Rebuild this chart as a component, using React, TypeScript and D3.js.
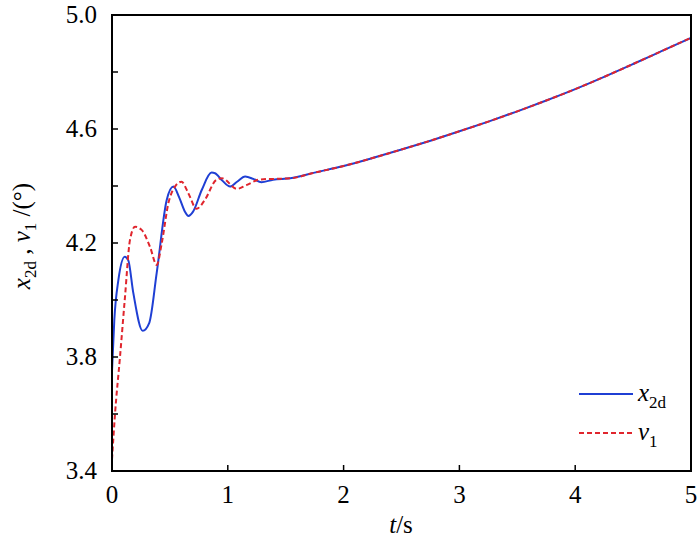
import React from "react";
import * as d3 from "d3";

const x2dTime = [0, 0.02, 0.055, 0.11, 0.14, 0.184, 0.265, 0.322, 0.386, 0.472, 0.53, 0.58, 0.63, 0.66, 0.7, 0.775, 0.86, 0.89, 0.95, 1.02, 1.08, 1.15, 1.22, 1.29, 1.39, 1.54];
const x2dValue = [3.75, 3.93, 4.07, 4.152, 4.14, 4.025, 3.892, 3.92, 4.095, 4.35, 4.398, 4.36, 4.31, 4.295, 4.31, 4.386, 4.447, 4.445, 4.42, 4.398, 4.415, 4.433, 4.425, 4.413, 4.422, 4.427];
const v1Time = [0, 0.026, 0.069, 0.112, 0.155, 0.199, 0.256, 0.328, 0.386, 0.43, 0.487, 0.544, 0.6, 0.66, 0.73, 0.8, 0.9, 0.95, 1.08, 1.16, 1.28, 1.4, 1.54];
const v1Value = [3.44, 3.6, 3.8, 4.01, 4.21, 4.257, 4.246, 4.187, 4.123, 4.2, 4.34, 4.398, 4.415, 4.374, 4.32, 4.35, 4.421, 4.427, 4.39, 4.403, 4.423, 4.425, 4.427];
const tailTime = [1.75, 2.0, 2.25, 2.5, 2.75, 3.0, 3.25, 3.5, 3.75, 4.0, 4.25, 4.5, 4.75, 5.0];
const tailValue = [4.447, 4.47, 4.498, 4.528, 4.559, 4.592, 4.626, 4.662, 4.7, 4.74, 4.783, 4.828, 4.874, 4.92];
const xTickValues = [0, 1, 2, 3, 4, 5];
const yTickValues = [3.4, 3.6, 3.8, 4.0, 4.2, 4.4, 4.6, 4.8, 5.0];
const yLabelValues = [3.4, 3.8, 4.2, 4.6, 5.0];

const BLUE = "#1f3fd4";
const RED = "#e0252d";
const FONT = "Liberation Serif, Times New Roman, DejaVu Serif, serif";
const tstyle = { fontFamily: FONT };
const FS = 25;
const SUB = 17;

export default function App() {
  const W = 700, H = 545;
  const left = 112, right = 691, top = 15, bottom = 471;
  const x = d3.scaleLinear().domain([0, 5]).range([left, right]);
  const y = d3.scaleLinear().domain([3.4, 5.0]).range([bottom, top]);
  const line = d3
    .line<[number, number]>()
    .x((d) => x(d[0]))
    .y((d) => y(d[1]))
    .curve(d3.curveMonotoneX);
  const blue: [number, number][] = x2dTime.map((t, i) => [t, x2dValue[i]] as [number, number])
    .concat(tailTime.map((t, i) => [t, tailValue[i]] as [number, number]));
  const red: [number, number][] = v1Time.map((t, i) => [t, v1Value[i]] as [number, number])
    .concat(tailTime.map((t, i) => [t, tailValue[i]] as [number, number]));

  return (
    <svg width={W} height={H} style={{ position: "absolute", left: 0, top: 0, background: "#fff", fontFamily: FONT }}>
      <rect x={0} y={0} width={W} height={H} fill="#fff" />
      <defs>
        <clipPath id="plotclip">
          <rect x={left} y={top} width={right - left} height={bottom - top} />
        </clipPath>
      </defs>
      <g clipPath="url(#plotclip)">
        <path d={line(blue) || ""} fill="none" stroke={BLUE} strokeWidth={2} />
        <path d={line(red) || ""} fill="none" stroke={RED} strokeWidth={2} strokeDasharray="5,3" />
      </g>
      <rect x={left} y={top} width={right - left} height={bottom - top} fill="none" stroke="#000" strokeWidth={2} />
      {yTickValues.map((v) => (
        <line key={"yt" + v} x1={left} x2={left + 6} y1={y(v)} y2={y(v)} stroke="#000" strokeWidth={1.5} />
      ))}
      {yLabelValues.map((v) => (
        <text key={"yl" + v} style={tstyle} x={left - 15} y={y(v)} dy="0.33em" textAnchor="end" fontSize={FS}>
          {v.toFixed(1)}
        </text>
      ))}
      {xTickValues.map((v) => (
        <g key={"xt" + v}>
          <line x1={x(v)} x2={x(v)} y1={bottom} y2={bottom - 6} stroke="#000" strokeWidth={1.5} />
          <text style={tstyle} x={x(v)} y={bottom + 32} textAnchor="middle" fontSize={FS}>
            {v}
          </text>
        </g>
      ))}
      <text style={tstyle} x={401} y={533} textAnchor="middle" fontSize={FS}>
        <tspan fontStyle="italic">t</tspan>/s
      </text>
      <text style={tstyle} transform="translate(30,236) rotate(-90)" textAnchor="middle" fontSize={FS}>
        <tspan fontStyle="italic">x</tspan>
        <tspan fontSize={SUB} dy={6}>2d</tspan>
        <tspan dy={-6}> , </tspan>
        <tspan fontStyle="italic">v</tspan>
        <tspan fontSize={SUB} dy={6}>1</tspan>
        <tspan dy={-6}> /(°)</tspan>
      </text>
      <line x1={579} x2={633} y1={394} y2={394} stroke={BLUE} strokeWidth={2} />
      <text style={tstyle} x={638} y={401} fontSize={FS}>
        <tspan fontStyle="italic">x</tspan>
        <tspan fontSize={SUB} dy={7}>2d</tspan>
      </text>
      <line x1={579} x2={633} y1={433} y2={433} stroke={RED} strokeWidth={2} strokeDasharray="5,3" />
      <text style={tstyle} x={638} y={440} fontSize={FS}>
        <tspan fontStyle="italic">v</tspan>
        <tspan fontSize={SUB} dy={7}>1</tspan>
      </text>
    </svg>
  );
}
